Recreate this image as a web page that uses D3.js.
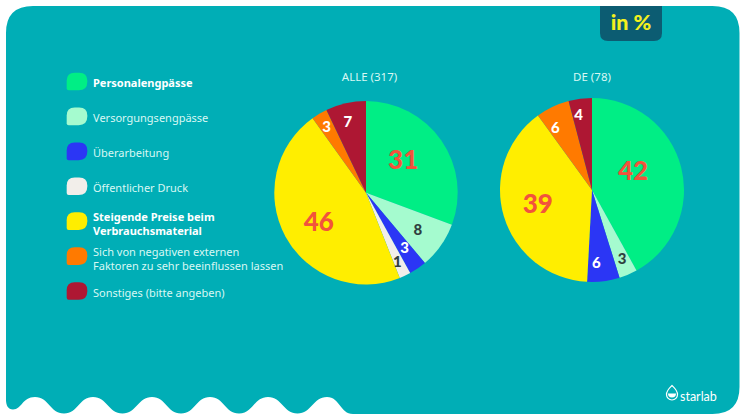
<!DOCTYPE html>
<html>
<head>
<meta charset="utf-8">
<script src="https://d3js.org/d3.v7.min.js"></script>
<style>
html, body { margin: 0; padding: 0; background: #fff; }
svg { display: block; }
</style>
</head>
<body>
<svg id="chart" width="746" height="420"></svg>
<script>
// 数据
const categories = [
    ['Personalengpässe'],
    ['Versorgungsengpässe'],
    ['Überarbeitung'],
    ['Öffentlicher Druck'],
    ['Steigende Preise beim', 'Verbrauchsmaterial'],
    ['Sich von negativen externen', 'Faktoren zu sehr beeinflussen lassen'],
    ['Sonstiges (bitte angeben)']
];
const boldCategories = [true, false, false, false, true, false, false];
const colors = ['#00ee85', '#a5fbcf', '#2b36f5', '#f2eeea', '#ffee00', '#ff7a00', '#ae1733'];

const titleAlle = 'ALLE (317)';
const valuesAlle = [30.7, 8.2, 3.1, 2, 46.1, 2.8, 7.1];
const labelsAlle = ['31', '8', '3', '1', '46', '3', '7'];

const titleDe = 'DE (78)';
const valuesDe = [42, 3.2, 5.7, 0, 39.2, 5.9, 4.1];
const labelsDe = ['42', '3', '6', '', '39', '6', '4'];

const crestXs = [35, 93, 152, 210, 268, 327];

const svg = d3.select('#chart');
const textFont = '"Noto Sans", sans-serif';
const numFont = 'Lato, sans-serif';

// 背景面板
function drawPanel() {
    const left = 6, right = 739.5, top = 6, bottom = 414, r = 27;
    const crest = 397, trough = 413.5;
    let p = `M${left},${top + r}Q${left},${top} ${left + r},${top}L${right - r},${top}`;
    p += `Q${right},${top} ${right},${top + r}L${right},${bottom - r}Q${right},${bottom} ${right - r},${bottom}`;
    p += `L353,${bottom}C340,${bottom} 340,${crest} ${crestXs[5]},${crest}`;
    for (let i = crestXs.length - 2; i >= 0; i--) {
        const a = crestXs[i + 1], b = crestXs[i], m = (a + b) / 2;
        p += `C${a - 14},${crest} ${m + 14},${trough} ${m},${trough}`;
        p += `C${m - 14},${trough} ${b + 14},${crest} ${b},${crest}`;
    }
    p += `C22,${crest} 22,409.5 13,409.5C8,409.5 ${left},405 ${left},400Z`;
    svg.append('path').attr('d', p).attr('fill', '#00aeb6');
}

// 右上角标签
function drawTab() {
    svg.append('path')
        .attr('d', 'M600,6H662V33Q662,41 654,41H608Q600,41 600,33Z')
        .attr('fill', '#0c5c72');
    svg.append('text')
        .attr('x', 631).attr('y', 30)
        .attr('text-anchor', 'middle')
        .attr('font-family', numFont)
        .attr('font-weight', 900)
        .attr('font-size', 21.5)
        .attr('fill', '#f4f01e')
        .text('in %');
}

function drawLegend() {
    const rowY = d3.scaleLinear().domain([0, 6]).range([81.5, 291]);
    const g = svg.append('g');
    categories.forEach((lines, i) => {
        const y = rowY(i);
        g.append('path')
            .attr('transform', `translate(66.7,${y - 8.8})`)
            .attr('d', 'M0,8Q0,0 8,0H12.5Q20.6,0 20.6,8V9Q20.6,17.6 12,17.6H2Q0,17.6 0,15.6Z')
            .attr('fill', colors[i]);
        lines.forEach((line, j) => {
            const lift = lines.length > 1 ? 3 : 1.6;
            g.append('text')
                .attr('x', 93)
                .attr('y', y + lift + 4 + (j - (lines.length - 1) / 2) * 14.2)
                .attr('font-family', textFont)
                .attr('font-size', 11)
                .attr('font-weight', boldCategories[i] ? 700 : 400)
                .attr('fill', boldCategories[i] ? '#ffffff' : '#d8f8f4')
                .text(line);
        });
    });
}

// 饼图
function drawPie(cx, cy, radius, titleX, title, values, labels, labelStyles) {
    const g = svg.append('g').attr('transform', `translate(${cx},${cy})`);
    const pie = d3.pie().value(d => d).sort(null);
    const arc = d3.arc().innerRadius(0).outerRadius(radius);
    const arcs = pie(values);

    g.selectAll('path')
        .data(arcs)
        .enter()
        .append('path')
        .attr('d', arc)
        .attr('fill', (d, i) => colors[i]);

    g.selectAll('text.val')
        .data(arcs)
        .enter()
        .append('text')
        .attr('class', 'val')
        .attr('transform', (d, i) => {
            const s = labelStyles[i];
            const a = (d.startAngle + d.endAngle) / 2 - Math.PI / 2;
            return `translate(${Math.cos(a) * radius * s.r + s.dx},${Math.sin(a) * radius * s.r + s.dy})`;
        })
        .attr('text-anchor', 'middle')
        .attr('dy', '0.36em')
        .attr('font-family', numFont)
        .attr('font-weight', 900)
        .attr('font-size', (d, i) => labelStyles[i].size)
        .attr('fill', (d, i) => labelStyles[i].fill)
        .text((d, i) => labels[i]);

    svg.append('text')
        .attr('x', titleX).attr('y', 81)
        .attr('text-anchor', 'middle')
        .attr('font-family', textFont)
        .attr('font-size', 11.5)
        .attr('fill', '#d8f8f4')
        .text(title);
}

function drawLogo() {
    const g = svg.append('g').attr('transform', 'translate(672,394)');
    g.append('path')
        .attr('d', 'M0,-8.5C3,-5.5 5.5,-3.5 5.5,0.5A5.5,5.5 0 0 1 -5.5,0.5C-5.5,-3.5 -3,-5.5 0,-8.5Z')
        .attr('fill', 'none').attr('stroke', '#fff').attr('stroke-width', 1.2);
    g.append('path').attr('d', 'M-4,-0.5H4A4,4 0 0 1 -4,-0.5Z').attr('fill', '#fff');
    svg.append('text')
        .attr('x', 680).attr('y', 400.5)
        .attr('font-family', 'Lato, sans-serif')
        .attr('font-size', 12.5)
        .attr('fill', '#ffffff')
        .text('starlab');
}

const big = { size: 26, fill: '#f2533c' };
const dark = '#2f3f3f';

drawPanel();
drawTab();
drawLegend();
drawPie(366, 192.7, 91.7, 369.5, titleAlle, valuesAlle, labelsAlle, [
    { ...big, r: 0.56, dx: -5, dy: -4 },
    { size: 15, fill: dark, r: 0.72, dx: -2, dy: -1 },
    { size: 15, fill: '#ffffff', r: 0.66, dx: 4.5, dy: 5 },
    { size: 15, fill: dark, r: 0.8, dx: 0, dy: 2.5 },
    { ...big, r: 0.55, dx: -3, dy: 4.7 },
    { size: 15, fill: '#ffffff', r: 0.8, dx: -2, dy: -3 },
    { size: 15, fill: '#ffffff', r: 0.8, dx: -2, dy: 0 }
]);
drawPie(592, 190, 92, 592, titleDe, valuesDe, labelsDe, [
    { ...big, r: 0.45, dx: 1, dy: -9 },
    { size: 15, fill: dark, r: 0.8, dx: 1, dy: 1 },
    { size: 15, fill: '#ffffff', r: 0.81, dx: -5, dy: -1.5 },
    { size: 15, fill: dark, r: 0.8, dx: 0, dy: 0 },
    { ...big, r: 0.58, dx: -3, dy: -1 },
    { size: 15, fill: '#ffffff', r: 0.78, dx: -6, dy: 2 },
    { size: 15, fill: '#ffffff', r: 0.8, dx: -4, dy: -2 }
]);
drawLogo();
</script>
</body>
</html>
